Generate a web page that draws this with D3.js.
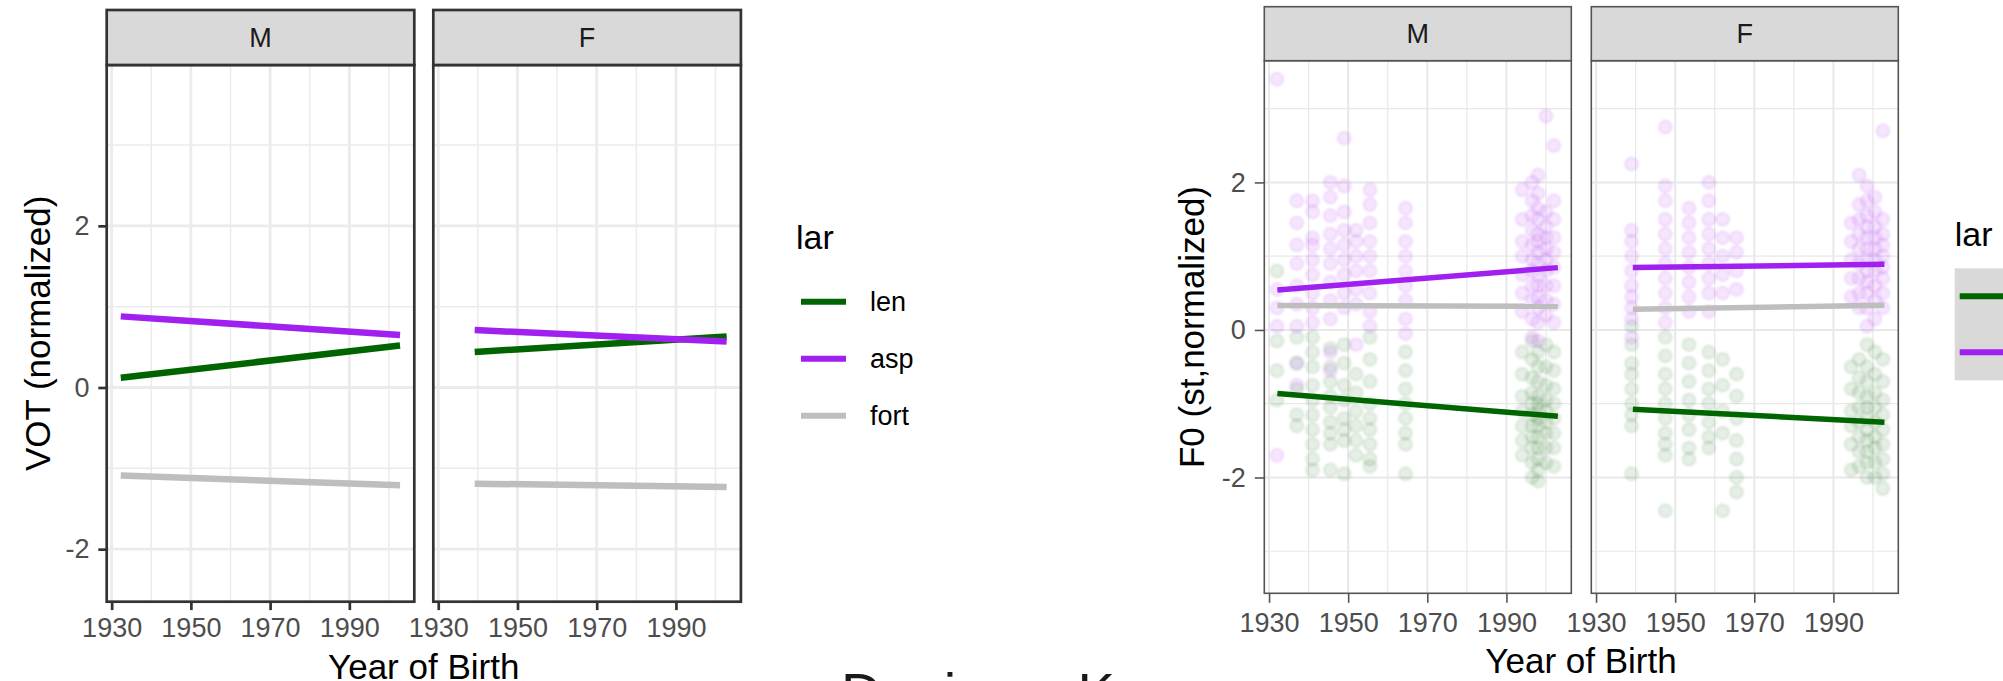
<!DOCTYPE html>
<html>
<head>
<meta charset="utf-8">
<script src="https://cdn.jsdelivr.net/npm/d3@7"></script>
<style>
    body { margin: 0; background: #fff; }
    svg text { font-family: "Liberation Sans", Arial, sans-serif; }
</style>
</head>
<body>
<div class="figure"></div>
<script>

// facets and groups
const sexes = ["M", "F"];
const larLevels = ["len", "asp", "fort"];
const larColors = ["#006400", "#a020f0", "#bebebe"];

const xTicks = [1930, 1950, 1970, 1990];
const xMinorTicks = [1940, 1960, 1980, 2000];

// left chart: VOT, fitted lines (start, end)
const votYears = [[1932.3, 2002.8], [1939.2, 2002.8]];
const votLenM = [0.12, 0.52], votAspM = [0.88, 0.65], votFortM = [-1.09, -1.21];
const votLenF = [0.44, 0.63], votAspF = [0.71, 0.57], votFortF = [-1.19, -1.23];
const votYTicks = [-2, 0, 2];
const votYMinor = [-1, 1, 3];

// right chart: F0, fitted lines (start, end)
const f0Years = [[1932.1, 2003.0], [1939.3, 2002.9]];
const f0LenM = [-0.86, -1.17], f0AspM = [0.54, 0.845], f0FortM = [0.33, 0.32];
const f0LenF = [-1.075, -1.25], f0AspF = [0.845, 0.89], f0FortF = [0.28, 0.335];
const f0YTicks = [-2, 0, 2];
const f0YMinor = [-3, -1, 1, 3];

// right chart: raw tokens per speaker column
const f0ColsM = [
    { year: 1932.0, asp: [3.4, 0.55, 0.3, 0.05, -1.7], len: [0.8, -0.15, -0.55, -0.95] },
    { year: 1937.0, asp: [1.75, 1.45, 1.15, 0.9, 0.6, 0.35, 0.05, -0.45, -0.75], len: [-0.1, -0.45, -0.8, -1.15, -1.3] },
    { year: 1941.0, asp: [1.75, 1.6, 1.25, 1.15, 0.95, 0.75, 0.5, 0.3, 0.1], len: [-0.1, -0.3, -0.5, -0.75, -0.95, -1.15, -1.35, -1.55, -1.75, -1.9] },
    { year: 1945.5, asp: [2.0, 1.8, 1.55, 1.3, 1.1, 0.9, 0.65, 0.4, 0.15, -0.3, -0.55], len: [-0.25, -0.5, -0.7, -0.9, -1.05, -1.25, -1.4, -1.55, -1.9] },
    { year: 1949.0, asp: [2.6, 1.95, 1.6, 1.35, 1.15, 0.95, 0.75, 0.5, 0.3], len: [-0.2, -0.45, -0.75, -0.95, -1.2, -1.35, -1.5, -1.95] },
    { year: 1952.0, asp: [1.35, 1.2, 1.0, 0.8, 0.55, 0.35, -0.2], len: [-0.6, -0.85, -1.1, -1.3, -1.5, -1.7] },
    { year: 1955.5, asp: [1.9, 1.7, 1.45, 1.2, 1.0, 0.8, 0.5, 0.25, 0.05], len: [-0.1, -0.4, -0.7, -1.0, -1.2, -1.35, -1.55, -1.75, -1.85] },
    { year: 1964.5, asp: [1.65, 1.45, 1.2, 1.0, 0.8, 0.6, 0.4, 0.15, -0.05], len: [-0.3, -0.55, -0.8, -1.0, -1.2, -1.4, -1.55, -1.95] },
    { year: 1994.0, asp: [1.9, 1.5, 1.2, 1.0, 0.75, 0.5, 0.25], len: [-0.3, -0.6, -0.9, -1.1, -1.3, -1.5, -1.7] },
    { year: 1996.5, asp: [2.0, 1.75, 1.55, 1.35, 1.15, 0.95, 0.8, 0.6, 0.4, 0.15, -0.1], len: [-0.15, -0.4, -0.65, -0.85, -1.0, -1.15, -1.3, -1.45, -1.6, -1.8, -2.0] },
    { year: 1998.0, asp: [2.1, 1.85, 1.65, 1.5, 1.3, 1.2, 1.05, 0.9, 0.75, 0.6, 0.45, 0.3, 0.1, -0.15], len: [-0.3, -0.5, -0.7, -0.9, -1.0, -1.1, -1.2, -1.3, -1.45, -1.6, -1.75, -1.9, -2.05] },
    { year: 2000.0, asp: [2.9, 1.6, 1.4, 1.25, 1.1, 0.95, 0.8, 0.6, 0.4, 0.2], len: [-0.2, -0.5, -0.75, -0.95, -1.1, -1.25, -1.4, -1.6, -1.8] },
    { year: 2002.0, asp: [2.5, 1.75, 1.5, 1.25, 1.05, 0.85, 0.6, 0.35, 0.1], len: [-0.3, -0.55, -0.8, -1.0, -1.2, -1.4, -1.6, -1.85] }
];
const f0ColsF = [
    { year: 1939.0, asp: [2.25, 1.35, 1.2, 1.0, 0.8, 0.6, 0.45, 0.3, 0.15, -0.1], len: [0.05, -0.2, -0.45, -0.6, -0.8, -1.0, -1.15, -1.3, -1.95] },
    { year: 1947.5, asp: [2.75, 1.95, 1.75, 1.5, 1.3, 1.1, 0.9, 0.7, 0.5, 0.3, 0.1], len: [-0.1, -0.35, -0.6, -0.8, -1.0, -1.2, -1.4, -1.55, -1.7, -2.45] },
    { year: 1953.5, asp: [1.65, 1.45, 1.25, 1.05, 0.85, 0.65, 0.45, 0.25], len: [-0.2, -0.45, -0.7, -0.95, -1.15, -1.35, -1.6, -1.75] },
    { year: 1958.5, asp: [2.0, 1.75, 1.5, 1.3, 1.1, 0.9, 0.7, 0.5, 0.25], len: [-0.3, -0.55, -0.8, -1.0, -1.25, -1.45, -1.6] },
    { year: 1962.0, asp: [1.5, 1.25, 1.0, 0.75, 0.5], len: [-0.4, -0.75, -1.1, -1.4, -2.45] },
    { year: 1965.5, asp: [1.25, 1.05, 0.8, 0.55], len: [-0.6, -0.9, -1.2, -1.5, -1.75, -2.0, -2.2] },
    { year: 1994.5, asp: [1.45, 1.2, 0.95, 0.7, 0.45], len: [-0.5, -0.8, -1.1, -1.3, -1.55, -1.9] },
    { year: 1996.5, asp: [2.1, 1.7, 1.5, 1.3, 1.1, 0.9, 0.7, 0.5, 0.3], len: [-0.4, -0.65, -0.85, -1.05, -1.25, -1.45, -1.65, -1.85] },
    { year: 1998.5, asp: [1.95, 1.75, 1.55, 1.4, 1.25, 1.1, 0.95, 0.8, 0.65, 0.5, 0.3, 0.05], len: [-0.2, -0.5, -0.7, -0.9, -1.05, -1.2, -1.35, -1.5, -1.65, -1.8, -2.0] },
    { year: 2000.5, asp: [1.8, 1.6, 1.4, 1.25, 1.1, 0.95, 0.8, 0.6, 0.4, 0.15], len: [-0.3, -0.6, -0.85, -1.05, -1.25, -1.45, -1.6, -1.8, -2.0] },
    { year: 2002.5, asp: [2.7, 1.5, 1.3, 1.15, 1.0, 0.85, 0.7, 0.5, 0.3], len: [-0.4, -0.7, -0.95, -1.15, -1.35, -1.55, -1.75, -1.95, -2.15] }
];

const svg = d3.select(".figure")
    .append("svg")
    .attr("width", 2003)
    .attr("height", 681);

svg.append("rect")
    .attr("width", 2003)
    .attr("height", 681)
    .attr("fill", "#fff");

// soft edges for the (jpeg-ish) point cloud
svg.append("defs")
    .append("filter")
    .attr("id", "soft")
    .append("feGaussianBlur")
    .attr("stdDeviation", 0.9);

// partially visible slide title under the figures
svg.append("text")
    .attr("x", 841)
    .attr("y", 712)
    .attr("font-size", 56)
    .attr("fill", "#1a1a1a")
    .text("Danişma K");

// one ggplot-like faceted chart
function FacetChart(id, opt) {

    const xScale = d3.scaleLinear()
        .domain(opt.xDomain)
        .range([0, opt.panelWidth]);

    const yScale = d3.scaleLinear()
        .domain(opt.yDomain)
        .range([opt.panelBottom, opt.panelTop]);

    const line = d3.line()
        .x(d => xScale(d[0]))
        .y(d => yScale(d[1]));

    const chart = svg.append("g").attr("class", id);
    const ph = opt.panelBottom - opt.panelTop;

    sexes.forEach((sex, i) => {
        const p = chart.append("g")
            .attr("transform", "translate(" + opt.panelLeft[i] + ",0)");

        p.append("clipPath")
            .attr("id", id + "-clip-" + i)
            .append("rect")
            .attr("y", opt.panelTop)
            .attr("width", opt.panelWidth)
            .attr("height", ph);

        // grid
        p.selectAll(".xminor").data(xMinorTicks).join("line")
            .attr("x1", d => xScale(d)).attr("x2", d => xScale(d))
            .attr("y1", opt.panelTop).attr("y2", opt.panelBottom)
            .attr("stroke", opt.gridColor).attr("stroke-width", opt.minorWidth);
        p.selectAll(".yminor").data(opt.yMinor).join("line")
            .attr("x1", 0).attr("x2", opt.panelWidth)
            .attr("y1", d => yScale(d)).attr("y2", d => yScale(d))
            .attr("stroke", opt.gridColor).attr("stroke-width", opt.minorWidth);
        p.selectAll(".xmajor").data(xTicks).join("line")
            .attr("x1", d => xScale(d)).attr("x2", d => xScale(d))
            .attr("y1", opt.panelTop).attr("y2", opt.panelBottom)
            .attr("stroke", opt.gridColor).attr("stroke-width", opt.majorWidth);
        p.selectAll(".ymajor").data(opt.yTicks).join("line")
            .attr("x1", 0).attr("x2", opt.panelWidth)
            .attr("y1", d => yScale(d)).attr("y2", d => yScale(d))
            .attr("stroke", opt.gridColor).attr("stroke-width", opt.majorWidth);

        const inner = p.append("g").attr("clip-path", "url(#" + id + "-clip-" + i + ")");

        // raw points
        if (opt.cols) {
            const pts = [];
            opt.cols[i].forEach(c => {
                ["len", "asp"].forEach(k => {
                    c[k].forEach(v => pts.push({ year: c.year, value: v, lar: k }));
                });
            });
            inner.append("g")
                .attr("filter", "url(#soft)")
                .selectAll(".pt").data(pts).join("circle")
                .attr("cx", d => xScale(d.year))
                .attr("cy", d => yScale(d.value))
                .attr("r", 6.5)
                .attr("fill", d => larColors[larLevels.indexOf(d.lar)])
                .attr("fill-opacity", 0.1)
                .attr("stroke", d => larColors[larLevels.indexOf(d.lar)])
                .attr("stroke-opacity", 0.13)
                .attr("stroke-width", 1.5);
        }

        // fitted lines
        opt.fits[i].forEach((vals, k) => {
            inner.append("path")
                .datum(opt.fitYears[i].map((yr, j) => [yr, vals[j]]))
                .attr("d", line)
                .attr("fill", "none")
                .attr("stroke", larColors[k])
                .attr("stroke-width", opt.lineWidth);
        });

        // border
        p.append("rect")
            .attr("y", opt.panelTop)
            .attr("width", opt.panelWidth)
            .attr("height", ph)
            .attr("fill", "none")
            .attr("stroke", opt.borderColor)
            .attr("stroke-width", opt.borderWidth);

        // strip
        p.append("rect")
            .attr("y", opt.stripTop)
            .attr("width", opt.panelWidth)
            .attr("height", opt.panelTop - opt.stripTop)
            .attr("fill", "#d9d9d9")
            .attr("stroke", opt.borderColor)
            .attr("stroke-width", opt.borderWidth);
        p.append("text")
            .attr("x", opt.panelWidth / 2)
            .attr("y", (opt.stripTop + opt.panelTop) / 2)
            .attr("dy", "0.36em")
            .attr("text-anchor", "middle")
            .attr("font-size", 27)
            .attr("fill", "#1a1a1a")
            .text(sex);

        // x axis
        const xAxis = d3.axisBottom(xScale)
            .tickValues(xTicks)
            .tickFormat(d => String(d))
            .tickSize(opt.tickLen)
            .tickPadding(opt.xPad);
        const xg = p.append("g")
            .attr("transform", "translate(0," + opt.panelBottom + ")")
            .call(xAxis);
        styleAxis(xg, opt);

        // y axis on first panel only
        if (i === 0) {
            const yAxis = d3.axisLeft(yScale)
                .tickValues(opt.yTicks)
                .tickFormat(d => String(d))
                .tickSize(opt.tickLen)
                .tickPadding(opt.yPad);
            const yg = p.append("g").call(yAxis);
            styleAxis(yg, opt);
        }
    });

    // axis titles
    chart.append("text")
        .attr("x", opt.xTitleX)
        .attr("y", opt.xTitleY)
        .attr("text-anchor", "middle")
        .attr("font-size", 35)
        .attr("fill", "#000")
        .text("Year of Birth");

    chart.append("text")
        .attr("transform", "translate(" + opt.yTitleX + "," + (opt.panelTop + opt.panelBottom) / 2 + ") rotate(-90)")
        .attr("text-anchor", "middle")
        .attr("font-size", 35)
        .attr("fill", "#000")
        .text(opt.yLabel);

    // legend
    const lg = chart.append("g")
        .attr("transform", "translate(" + opt.legendX + "," + opt.legendY + ")");
    lg.append("text")
        .attr("x", 0)
        .attr("y", 0)
        .attr("font-size", 34)
        .attr("fill", "#000")
        .text("lar");
    if (opt.keyFill) {
        lg.append("rect")
            .attr("x", 0)
            .attr("y", opt.keyTop)
            .attr("width", 58)
            .attr("height", opt.keyStep * opt.legendKeys)
            .attr("fill", opt.keyFill);
    }
    larLevels.slice(0, opt.legendKeys).forEach((lar, k) => {
        const ky = opt.keyTop + opt.keyStep * (k + 0.5);
        lg.append("line")
            .attr("x1", 5).attr("x2", 50)
            .attr("y1", ky).attr("y2", ky)
            .attr("stroke", larColors[k])
            .attr("stroke-width", 6);
        lg.append("text")
            .attr("x", 74)
            .attr("y", ky)
            .attr("dy", "0.35em")
            .attr("font-size", 27)
            .attr("fill", "#000")
            .text(lar);
    });
}

function styleAxis(axisG, opt) {
    axisG.select(".domain").remove();
    axisG.selectAll(".tick line")
        .attr("stroke", opt.borderColor)
        .attr("stroke-width", opt.borderWidth);
    axisG.selectAll(".tick text")
        .attr("fill", "#4d4d4d")
        .attr("font-size", 27)
        .attr("font-family", "Liberation Sans, Arial, sans-serif");
}

FacetChart("vot", {
    panelLeft: [106.7, 433.3],
    panelWidth: 307.6,
    stripTop: 10,
    panelTop: 65,
    panelBottom: 601.7,
    xDomain: [1928.75, 2006.4],
    yDomain: [-2.65, 3.99],
    yTicks: votYTicks,
    yMinor: votYMinor,
    fitYears: votYears,
    fits: [[votLenM, votAspM, votFortM], [votLenF, votAspF, votFortF]],
    gridColor: "#ebebeb",
    majorWidth: 2.8,
    minorWidth: 1.5,
    borderColor: "#333333",
    borderWidth: 2.7,
    lineWidth: 6.5,
    tickLen: 8.4,
    xPad: 7.4,
    yPad: 8.8,
    xTitleX: 423.7,
    xTitleY: 678.5,
    yTitleX: 50,
    yLabel: "VOT (normalized)",
    legendX: 796,
    legendY: 249,
    keyTop: 24.2,
    keyStep: 57,
    legendKeys: 3
});

FacetChart("f0", {
    panelLeft: [1264.3, 1591.3],
    panelWidth: 307,
    stripTop: 6.7,
    panelTop: 60.7,
    panelBottom: 593.3,
    xDomain: [1928.8, 2006.4],
    yDomain: [-3.57, 3.65],
    yTicks: f0YTicks,
    yMinor: f0YMinor,
    fitYears: f0Years,
    fits: [[f0LenM, f0AspM, f0FortM], [f0LenF, f0AspF, f0FortF]],
    cols: [f0ColsM, f0ColsF],
    gridColor: "#e8e8e8",
    majorWidth: 2,
    minorWidth: 1.2,
    borderColor: "#555555",
    borderWidth: 1.6,
    lineWidth: 5.5,
    tickLen: 9.5,
    xPad: 10,
    yPad: 9,
    xTitleX: 1581,
    xTitleY: 672.7,
    yTitleX: 1204,
    yLabel: "F0 (st,normalized)",
    legendX: 1954.7,
    legendY: 246,
    keyTop: 22.3,
    keyStep: 56,
    legendKeys: 2,
    keyFill: "#d9d9d9"
});

</script>
</body>
</html>
